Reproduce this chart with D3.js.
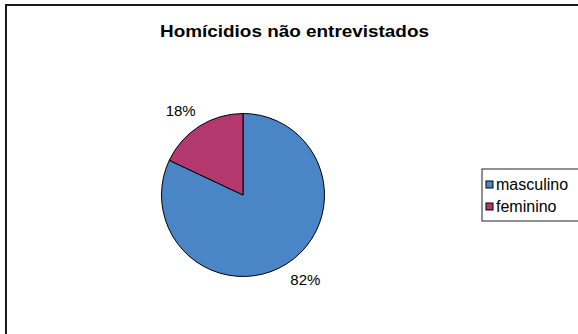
<!DOCTYPE html>
<html>
<head>
<meta charset="utf-8">
<script src="https://cdn.jsdelivr.net/npm/d3@7"></script>
<style>
  body { margin: 0; background: #fff; }
  svg { display: block; font-family: Arial, "Liberation Sans", sans-serif; }
</style>
</head>
<body>
<svg class="chart" width="578" height="334"></svg>
<script>
const categories = ["masculino", "feminino"];
const values = [82, 18];
const colors = ["#4a86c6", "#b3386e"];
const title = "Homícidios não entrevistados";

const svg = d3.select("svg.chart");

// outer chart frame (right and bottom edges fall outside the picture)
svg.append("rect")
  .attr("x", 6).attr("y", 5)
  .attr("width", 600).attr("height", 360)
  .attr("fill", "#fff")
  .attr("stroke", "#1a1a1a")
  .attr("stroke-width", 2);

svg.append("text")
  .attr("x", 160).attr("y", 37)
  .attr("textLength", 269)
  .attr("lengthAdjust", "spacingAndGlyphs")
  .style("font-size", "17px")
  .style("font-weight", "bold")
  .text(title);

const data = categories.map((c, i) => ({ name: c, value: values[i] }));

const color = d3.scaleOrdinal().domain(categories).range(colors);

const pie = d3.pie().sort(null).value(d => d.value);
const radius = 81.5;
const arc = d3.arc().innerRadius(0).outerRadius(radius);
const labelArc = d3.arc().innerRadius(105).outerRadius(105);

const g = svg.append("g")
  .attr("transform", "translate(243,195)");

const arcs = pie(data);

g.selectAll("path")
  .data(arcs)
  .enter().append("path")
  .attr("d", arc)
  .attr("fill", d => color(d.data.name))
  .attr("stroke", "#000")
  .attr("stroke-width", 1);

// labels sit a little counter-clockwise of the slice middle, like Excel does
g.selectAll("text.label")
  .data(arcs)
  .enter().append("text")
  .attr("class", "label")
  .attr("transform", d => {
    const c = labelArc.centroid({ startAngle: d.startAngle - 0.07, endAngle: d.endAngle - 0.07 });
    return "translate(" + c + ")";
  })
  .attr("text-anchor", "middle")
  .attr("dy", "0.35em")
  .style("font-size", "15px")
  .text(d => d.data.value + "%");

// legend
const legend = svg.append("g").attr("transform", "translate(482,169)");
legend.append("rect")
  .attr("width", 110).attr("height", 52)
  .attr("fill", "#fff")
  .attr("stroke", "#222")
  .attr("stroke-width", 1);

const item = legend.selectAll("g.item")
  .data(categories)
  .enter().append("g")
  .attr("class", "item")
  .attr("transform", (d, i) => "translate(4," + (15 + i * 22) + ")");

item.append("rect")
  .attr("x", 0).attr("y", -3)
  .attr("width", 7).attr("height", 7)
  .attr("fill", d => color(d))
  .attr("stroke", "#000")
  .attr("stroke-width", 1);

item.append("text")
  .attr("x", 10).attr("y", 0)
  .attr("dy", "0.35em")
  .style("font-size", "16px")
  .text(d => d);
</script>
</body>
</html>
